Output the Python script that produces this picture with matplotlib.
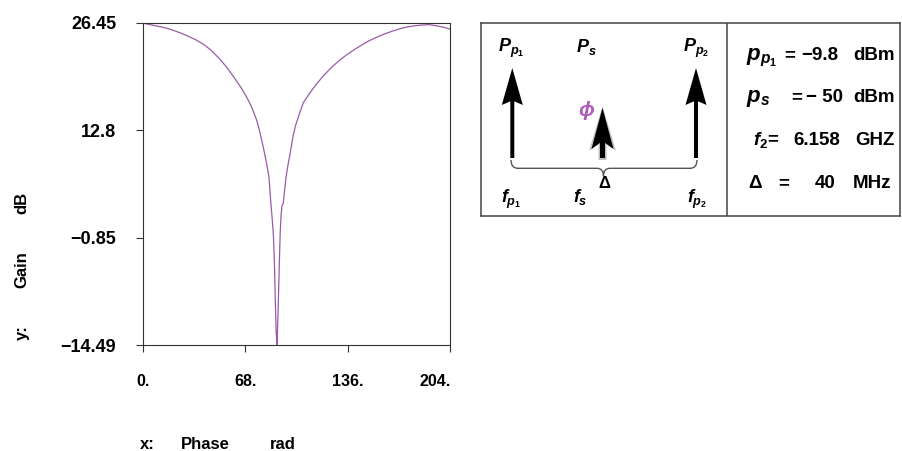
import matplotlib
matplotlib.use("Agg")
import matplotlib.pyplot as plt
from matplotlib.patches import FancyArrow, PathPatch
from matplotlib.path import Path

plt.rcParams["font.family"] = ["Liberation Sans", "DejaVu Sans"]
plt.rcParams["font.weight"] = "bold"
plt.rcParams["mathtext.fontset"] = "custom"
plt.rcParams["mathtext.rm"] = "Liberation Sans:bold"
plt.rcParams["mathtext.it"] = "Liberation Sans:italic:bold"
plt.rcParams["mathtext.bf"] = "Liberation Sans:bold"

# Gain versus signal phase
phase = [0, 5, 10, 15, 20, 25, 30, 35, 40, 45, 50, 55, 60, 62, 64, 66, 68,
         70, 72, 73.5, 75.5, 77.2, 78.8, 80.5, 82.2, 83.7, 84.8, 85.7, 86.6,
         87.3, 87.9, 88.5, 89.0, 89.6, 90.1, 90.6, 91.1, 91.7, 92.3, 93.2,
         93.6, 95.0, 96.3, 97.7, 98.8, 99.9, 101.5, 103.2, 104.8, 106.5, 110,
         113, 116, 120, 125, 130, 135, 140, 145, 150, 155, 160, 165, 170, 175,
         180, 185, 190, 195, 200, 204]
gain = [26.40, 26.2, 26.0, 25.8, 25.5, 25.15, 24.75, 24.3, 23.75, 23.0, 22.05,
        20.95, 19.65, 19.1, 18.55, 17.95, 17.3, 16.6, 15.8, 15.1, 14.1, 12.9,
        11.6, 10.1, 8.5, 6.8, 3.9, 1.8, -0.4, -4.0, -9.0, -13.0, -14.49,
        -11.0, -7.5, -3.8, -0.4, 2.0, 3.2, 3.5, 4.4, 6.8, 8.4, 9.8, 11.1, 12.3,
        13.5, 14.5, 15.4, 16.3, 17.3, 18.1, 18.85, 19.75, 20.75, 21.6, 22.35,
        23.0, 23.6, 24.15, 24.6, 25.0, 25.35, 25.65, 25.9, 26.05, 26.15, 26.2,
        26.05, 25.85, 25.6]

x_ticks = [0, 68, 136, 204]
x_tick_labels = ["0.", "68.", "136.", "204."]
y_ticks = [-14.49, -0.85, 12.8, 26.45]
y_tick_labels = ["\u221214.49", "\u22120.85", "12.8", "26.45"]

# Operating point
pump_power = "\u22129.8"
signal_power = "\u2212 50"
frequency = "6.158"
detuning = "40"

W, H = 903, 451
fig = plt.figure(figsize=(W / 100, H / 100), dpi=100)


def frac_rect(x0, y0, x1, y1):
    return [x0 / W, 1 - y1 / H, (x1 - x0) / W, (y1 - y0) / H]


ax = fig.add_axes(frac_rect(142.7, 22.7, 450.5, 345))
ax.plot(phase, gain, color="#9a5aa8", lw=0.9)
ax.set_xlim(x_ticks[0], x_ticks[-1])
ax.set_ylim(y_ticks[0], y_ticks[-1])
ax.set_xticks(x_ticks, x_tick_labels)
ax.set_yticks(y_ticks, y_tick_labels)
ax.tick_params(direction="out", length=5, width=0.8, color="#333333")
ax.tick_params(axis="y", labelsize=13, pad=14)
ax.tick_params(axis="x", labelsize=11.5, pad=16)
ax.get_xticklabels()[-1].set_horizontalalignment("right")
for sp in ax.spines.values():
    sp.set_color("#333333")
    sp.set_linewidth(0.8)

# Axis captions
for txt, yc in [("y:", 333), ("Gain", 270), ("dB", 203)]:
    fig.text(26.5 / W, 1 - yc / H, txt, rotation=90, rotation_mode="anchor",
             ha="center", va="baseline", fontsize=12)
for txt, xc in [("x:", 147.5), ("Phase", 205), ("rad", 283)]:
    fig.text(xc / W, 1 - 449 / H, txt, ha="center", va="baseline", fontsize=12)

# Schematic panel, drawn in pixel units
box = fig.add_axes(frac_rect(481, 22.5, 900, 216))
box.set_xlim(481, 900)
box.set_ylim(216, 22.5)
box.set_xticks([])
box.set_yticks([])
for sp in box.spines.values():
    sp.set_color("#444444")
    sp.set_linewidth(1.1)
box.axvline(727, color="#444444", lw=1.1)

for xa in (512.3, 696):
    box.add_patch(FancyArrow(xa, 158, 0, -90, width=4, head_width=21,
                             head_length=37, overhang=0.1,
                             length_includes_head=True, color="black", lw=0))
# softened signal arrow
box.add_patch(FancyArrow(602.5, 160, 0, -54, width=8, head_width=27,
                         head_length=45, overhang=0.15,
                         length_includes_head=True, color="black", alpha=0.25, lw=0))
box.add_patch(FancyArrow(602.5, 158, 0, -50, width=5, head_width=22,
                         head_length=41, overhang=0.15,
                         length_includes_head=True, color="black", lw=0))

# Brace spanning the two pumps
yb = 168.3
verts = [(511, 160), (511, yb), (518, yb), (597, yb), (603.5, yb), (603.5, 176),
         (603.5, yb), (610, yb), (690, yb), (697, yb), (697, 160)]
codes = [Path.MOVETO, Path.CURVE3, Path.CURVE3, Path.LINETO, Path.CURVE3,
         Path.CURVE3, Path.CURVE3, Path.CURVE3, Path.LINETO, Path.CURVE3,
         Path.CURVE3]
box.add_patch(PathPatch(Path(verts, codes), fill=False, edgecolor="#555555", lw=1))

fs_sym = 13
box.text(511, 52, r"$P_{p_1}$", ha="center", va="baseline", fontsize=fs_sym)
box.text(586, 52, r"$P_s$", ha="center", va="baseline", fontsize=fs_sym)
box.text(696, 52, r"$P_{p_2}$", ha="center", va="baseline", fontsize=fs_sym)
box.text(511, 203, r"$f_{p_1}$", ha="center", va="baseline", fontsize=fs_sym)
box.text(580, 202, r"$f_s$", ha="center", va="baseline", fontsize=fs_sym)
box.text(697, 203, r"$f_{p_2}$", ha="center", va="baseline", fontsize=fs_sym)
box.text(604, 188.5, "\u0394", ha="center", va="baseline", fontsize=12)
box.text(587, 110, r"$\phi$", ha="center", va="center", fontsize=15,
         color="#a040b0", alpha=0.85)

fs_val = 13.5
rows = [
    (r"$p_{p_1}$", 746, 16, 784, pump_power, 801, "dBm", 853, 60),
    (r"$p_s$", 746, 16, 791, signal_power, 806, "dBm", 853, 102),
    (r"$f_2$=", 753, 13.5, None, frequency, 793, "GHZ", 855, 145),
    ("\u0394", 748, 13.5, 778, detuning, 815, "MHz", 853, 188),
]
for lab, xl, fs_lab, xe, val, xv, unit, xu, yb in rows:
    box.text(xl, yb, lab, ha="left", va="baseline", fontsize=fs_lab)
    if xe is not None:
        box.text(xe, yb, "=", ha="left", va="baseline", fontsize=fs_val)
    box.text(xv, yb, val, ha="left", va="baseline", fontsize=fs_val)
    box.text(xu, yb, unit, ha="left", va="baseline", fontsize=fs_val)

fig.savefig("out.png", dpi=100)
